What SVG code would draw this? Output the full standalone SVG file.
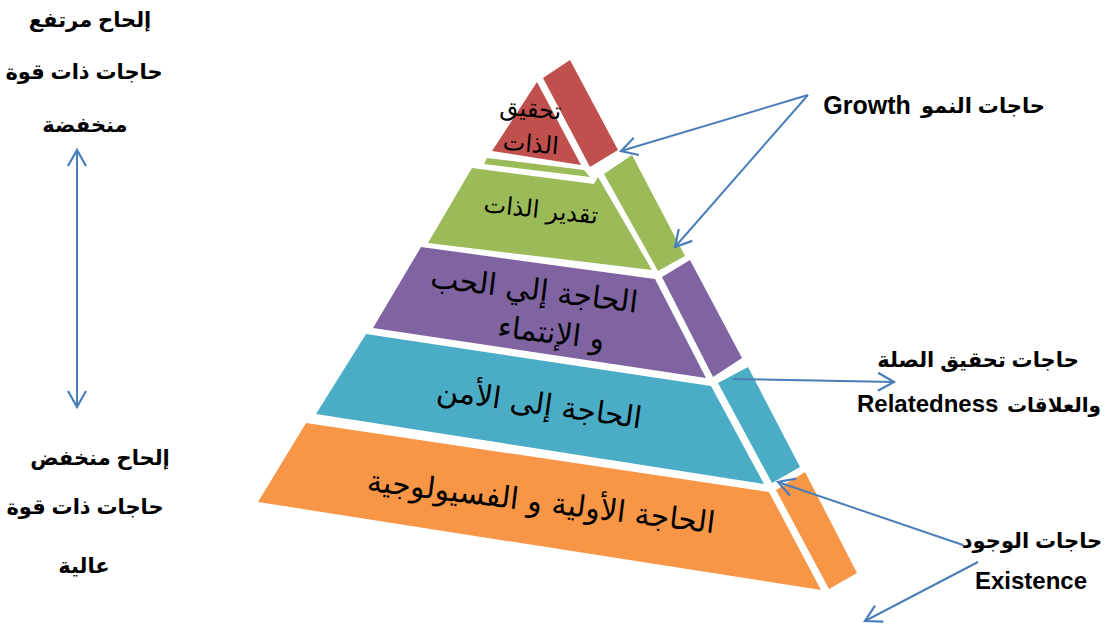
<svg xmlns="http://www.w3.org/2000/svg" width="1105" height="626" viewBox="0 0 1105 626">
<style>
.lbl{font-family:"Liberation Sans","DejaVu Sans",sans-serif;font-weight:bold;fill:#000;text-anchor:middle}
.tier{font-family:"DejaVu Sans","Liberation Sans",sans-serif;fill:#000;text-anchor:middle}
.con{fill:none;stroke:#4A7EBB;stroke-width:2}
.red{fill:#C0504D}.green{fill:#9BBB59}.purple{fill:#8064A2}.blue{fill:#4BACC6}.orange{fill:#F79646}
</style>
<defs>
<marker id="arr" viewBox="0 0 20 20" refX="17" refY="10" markerWidth="20" markerHeight="20" markerUnits="userSpaceOnUse" orient="auto-start-reverse">
<path d="M1,1 L17,10 L1,19" fill="none" stroke="#4A7EBB" stroke-width="2.2"/>
</marker>
</defs>
<rect width="1105" height="626" fill="#fff"/>

<g id="tier-orange">
<polygon class="orange" points="306,423 769,492 821,590 258,502"/>
<polygon class="orange" points="776,490 805,472 857,573 829,589"/>
<text class="tier" font-size="30" transform="translate(540,512) rotate(7)">الحاجة الأولية و  الفسيولوجية</text>
</g>
<g id="tier-blue">
<polygon class="blue" points="366,334 711,386 764,484 316,414"/>
<polygon class="blue" points="718,383 748,367 800,467 772,483"/>
<text class="tier" font-size="30" transform="translate(538,414) rotate(8)">الحاجة إلى الأمن</text>
</g>
<g id="tier-purple">
<polygon class="purple" points="421,247 655,279 706,378 373,328"/>
<polygon class="purple" points="662,277 690,260 742,358 713,377"/>
<text class="tier" font-size="30" transform="translate(533,300) rotate(7)">الحاجة إلي الحب</text>
<text class="tier" font-size="30" transform="translate(550,343) rotate(7)">و  الإنتماء</text>
</g>
<g id="tier-green">
<polygon class="green" points="487,158 584,170 590,177 484,164"/>
<polygon class="green" points="472,168 594,184 598,177 652,270 428,243"/>
<polygon class="green" points="604,174 632,155 685,256 658,271"/>
<text class="tier" font-size="24" transform="translate(540,218) rotate(6)">تقدير  الذات</text>
</g>
<g id="tier-red">
<polygon class="red" points="537,82 581,165 492,151"/>
<polygon class="red" points="543,78 570,60 618,150 590,167"/>
<text class="tier" font-size="24" transform="translate(530,117) rotate(5)">تحقيق</text>
<text class="tier" font-size="24" transform="translate(530,152) rotate(5)">الذات</text>
</g>

<g id="label-high">
<text class="lbl" font-size="21" x="90" y="27">إلحاح مرتفع</text>
<text class="lbl" font-size="21" x="84" y="79">حاجات ذات قوة</text>
<text class="lbl" font-size="21" x="85" y="132">منخفضة</text>
</g>
<g id="label-low">
<text class="lbl" font-size="21" x="100" y="465">إلحاح منخفض</text>
<text class="lbl" font-size="21" x="85" y="514">حاجات ذات قوة</text>
<text class="lbl" font-size="21" x="84" y="573">عالية</text>
</g>
<g id="label-growth">
<text class="lbl" font-size="25" x="867" y="114">Growth</text>
<text class="lbl" font-size="21" x="983" y="113">حاجات النمو</text>
</g>
<g id="label-relatedness">
<text class="lbl" font-size="21" x="978" y="367">حاجات تحقيق الصلة</text>
<text class="lbl" font-size="24" x="857" y="412" style="text-anchor:start">Relatedness</text>
<text class="lbl" font-size="20" x="1101" y="412" style="text-anchor:end">والعلاقات</text>
</g>
<g id="label-existence">
<text class="lbl" font-size="21" x="1032" y="548">حاجات الوجود</text>
<text class="lbl" font-size="24" x="1031" y="589">Existence</text>
</g>

<g id="connectors">
<line class="con" x1="77" y1="150" x2="77" y2="407" marker-start="url(#arr)" marker-end="url(#arr)"/>
<line class="con" x1="808" y1="95" x2="621" y2="151" marker-end="url(#arr)"/>
<line class="con" x1="808" y1="95" x2="675" y2="247" marker-end="url(#arr)"/>
<line class="con" x1="733" y1="379" x2="894" y2="382" marker-end="url(#arr)"/>
<line class="con" x1="963" y1="545" x2="778" y2="482" marker-end="url(#arr)"/>
<line class="con" x1="978" y1="562" x2="865" y2="621" marker-end="url(#arr)"/>
</g>
</svg>
